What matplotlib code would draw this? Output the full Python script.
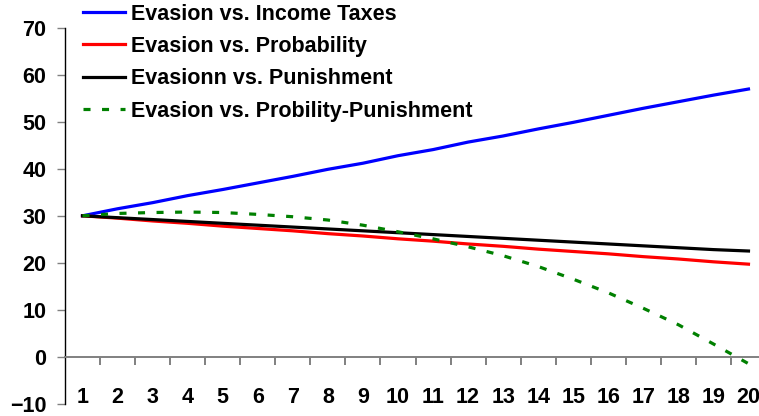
import numpy as np
import matplotlib
matplotlib.use('Agg')
import matplotlib.pyplot as plt

plt.rcParams['font.family'] = ['Liberation Sans', 'DejaVu Sans']
plt.rcParams['font.weight'] = 'bold'

# categories 1..20
periods = list(range(1, 21))

income_taxes = [30.0, 31.5, 32.8, 34.3, 35.6, 37.0, 38.4, 39.9, 41.2, 42.8,
                44.1, 45.7, 47.0, 48.5, 49.9, 51.4, 52.9, 54.3, 55.7, 57.0]
probability = [30.0, 29.5, 28.9, 28.4, 27.8, 27.3, 26.8, 26.2, 25.7, 25.1,
               24.6, 24.0, 23.5, 22.9, 22.4, 21.9, 21.3, 20.8, 20.2, 19.7]
punishment = [30.0, 29.6, 29.2, 28.8, 28.4, 28.0, 27.6, 27.2, 26.8, 26.4,
              26.0, 25.6, 25.2, 24.8, 24.4, 24.0, 23.6, 23.2, 22.8, 22.5]
prob_punish = [30.0, 30.5, 30.7, 30.8, 30.7, 30.3, 29.8, 29.1, 28.0, 26.6,
               25.1, 23.4, 21.5, 19.2, 16.5, 13.6, 10.3, 6.8, 2.7, -1.5]

labels = ['Evasion vs. Income Taxes', 'Evasion vs. Probability',
          'Evasionn vs. Punishment', 'Evasion vs. Probility-Punishment']

W, H = 759, 416
fig = plt.figure(figsize=(W / 100, H / 100), dpi=100)
ax = fig.add_axes([65 / W, 1 - 403.6 / H, 701 / W, (403.6 - 28) / H])

lw = 2.3
ax.plot(periods, income_taxes, color='#0000FF', lw=lw, label=labels[0])
ax.plot(periods, probability, color='#FF0000', lw=lw, label=labels[1])
ax.plot(periods, punishment, color='black', lw=lw, label=labels[2])
ax.plot(periods, prob_punish, color='#008000', lw=lw, dashes=(2.2, 3.6),
        label=labels[3])

ax.set_xlim(0.5, 20.5)
ax.set_ylim(-10, 70)

ax.spines['top'].set_visible(False)
ax.spines['right'].set_visible(False)
ax.spines['bottom'].set_position(('data', 0))
ax.spines['bottom'].set_color('#808080')
ax.spines['bottom'].set_linewidth(1.4)
ax.spines['left'].set_color('black')
ax.spines['left'].set_linewidth(1.0)

fs = 15.5
ax.set_yticks(np.arange(-10, 71, 10))
ax.tick_params(axis='y', direction='out', length=5.5, width=1.0,
               color='#808080', pad=8, labelsize=fs)

ax.set_xticks(periods)
ax.set_xticklabels([str(p) for p in periods])
ax.set_xticks(np.arange(1.5, 20, 1), minor=True)
ax.tick_params(axis='x', which='major', length=0, pad=21.5, labelsize=fs)
ax.tick_params(axis='x', which='minor', direction='out', length=5.8,
               width=1.4, color='#808080')
for t in ax.get_xticklabels() + ax.get_yticklabels():
    t.set_fontweight('bold')

fig.legend(loc='upper left', bbox_to_anchor=(83 / W, 1 - 3.5 / H),
           frameon=False, borderpad=0, borderaxespad=0,
           handlelength=1.95, handletextpad=0.26, labelspacing=0.53,
           prop={'size': fs, 'weight': 'bold'})

fig.savefig('out.png', dpi=100)
